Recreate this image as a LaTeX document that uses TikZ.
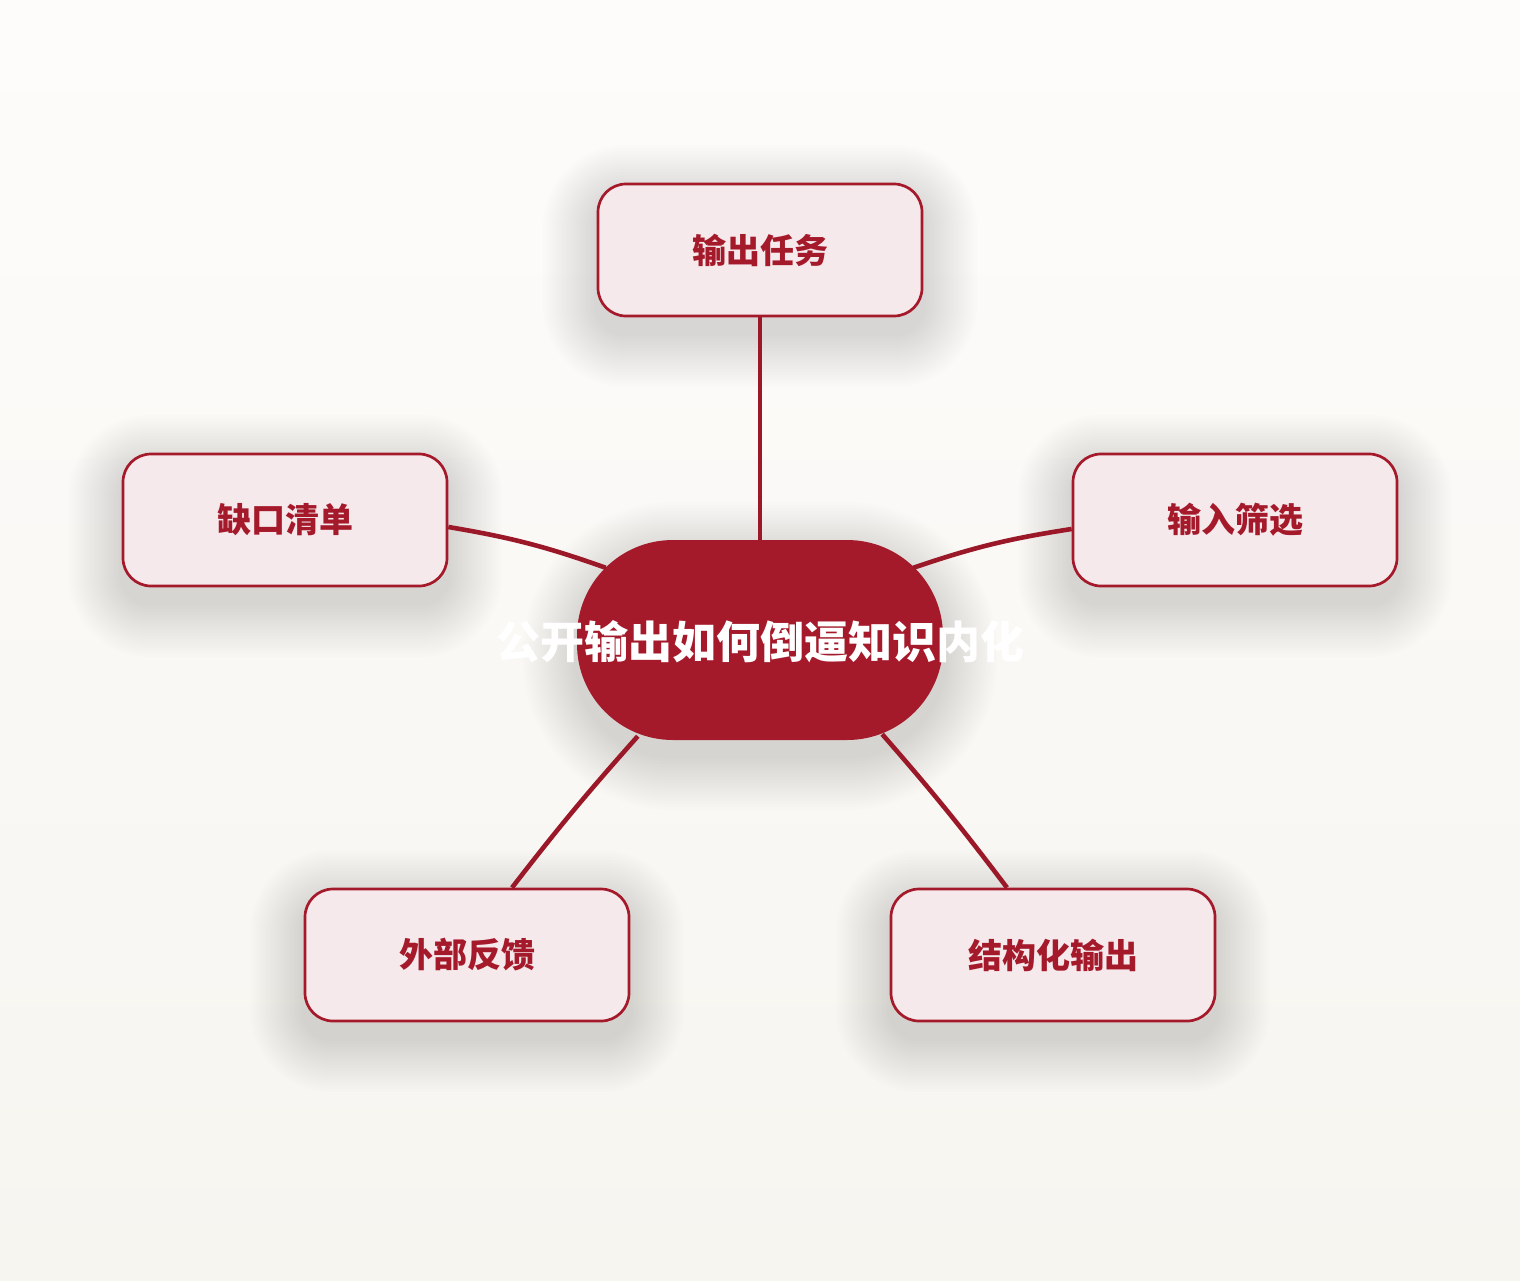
\documentclass[tikz,border=0pt]{standalone}
\usepackage{fontspec}
\usepackage{tikz}
\usetikzlibrary{calc}
\usepackage{xcolor}
\newfontfamily\cjk{Noto Sans CJK SC}
\definecolor{deepred}{HTML}{A51A2B}
\definecolor{palered}{HTML}{F5E9EC}
\definecolor{papertop}{HTML}{FDFCFB}
\definecolor{paperbot}{HTML}{F7F5F0}
\newcommand\softshadow[5]{% centre x, centre y, half width, half height, corner radius
  \foreach \k in {1,...,18}{
    \pgfmathsetmacro\grow{3*\k}
    \pgfmathsetmacro\rad{#5+3*\k}
    \fill[black, opacity=0.009, rounded corners=\rad pt]
      (#1-#3-\grow, #2-#4-\grow+16) rectangle (#1+#3+\grow, #2+#4+\grow+16);
  }
}
\tikzset{
  leaf/.style={draw=deepred, line width=2.7pt, fill=palered, rounded corners=28pt,
    minimum width=324pt, minimum height=132pt, text=deepred,
    font=\cjk\bfseries\fontsize{34pt}{40pt}\selectfont},
  hub/.style={fill=deepred, rounded corners=96pt, minimum width=366pt, minimum height=200pt},
  hubtext/.style={text=white, font=\cjk\bfseries\fontsize{44pt}{50pt}\selectfont},
  link/.style={draw=deepred!94!black, line width=4.6pt},
}

\begin{document}
\begin{tikzpicture}[x=1pt, y=-1pt]
  \useasboundingbox (0,0) rectangle (1520,1280);
  \shade[top color=papertop, bottom color=paperbot] (0,0) rectangle (1520,1280);

  % shadows
  \softshadow{760}{640}{183}{100}{96}
  \softshadow{760}{250}{163}{67}{28}
  \softshadow{285}{520}{163}{67}{28}
  \softshadow{1235}{520}{163}{67}{28}
  \softshadow{467}{955}{163}{67}{28}
  \softshadow{1053}{955}{163}{67}{28}

  \node[hub] (hub) at (760,640) {};
  \node[hubtext] (hubtitle) at (760,642) {公开输出如何倒逼知识内化};

  \node[leaf] (task) at (760,250) {输出任务};
  \node[leaf] (gap) at (285,520) {缺口清单};
  \node[leaf] (input) at (1235,520) {输入筛选};
  \node[leaf] (feedback) at (467,955) {外部反馈};
  \node[leaf] (structure) at (1053,955) {结构化输出};

  % ends on the rounded hub border
  \coordinate (hubnw) at ([shift={(29,28)}]hub.north west);
  \coordinate (hubne) at ([shift={(-30,28)}]hub.north east);
  \coordinate (hubsw) at ([shift={(61,-4)}]hub.south west);
  \coordinate (hubse) at ([shift={(-61,-6)}]hub.south east);

  \draw[link] (task.south) -- (hub.north);
  \draw[link] ([yshift=-7pt]gap.east) to[bend left=5] (hubnw);
  \draw[link] ([yshift=-9pt]input.west) to[bend right=5] (hubne);
  \draw[link] ([xshift=45pt]feedback.north) to[bend left=2] (hubsw);
  \draw[link] ([xshift=-46pt]structure.north) to[bend right=2] (hubse);
\end{tikzpicture}
\end{document}
